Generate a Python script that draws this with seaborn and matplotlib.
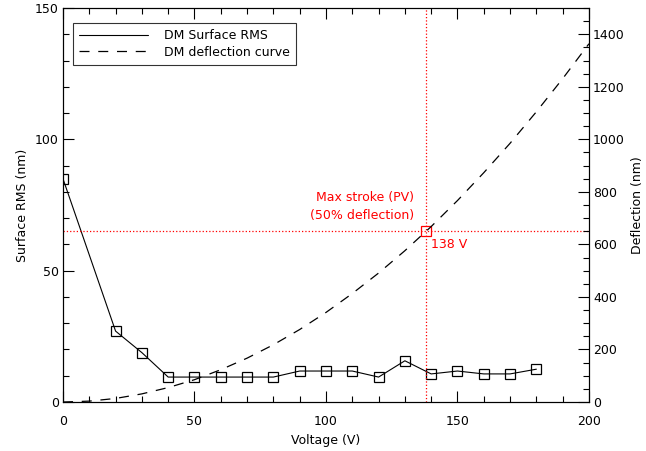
import matplotlib
matplotlib.use("Agg")
import matplotlib.pyplot as plt
import seaborn as sns
import pandas as pd
from matplotlib.ticker import MultipleLocator

# measured surface RMS vs voltage
voltage = [0, 20, 30, 40, 50, 60, 70, 80, 90, 100, 110, 120, 130, 140, 150, 160, 170, 180]
rms_nm = [85, 27, 18.8, 9.5, 9.5, 9.5, 9.5, 9.5, 11.8, 11.8, 11.8, 9.5, 15.7, 10.7, 11.8, 10.7, 10.7, 12.5]

# deflection curve
curve_v = [0, 10, 20, 30, 40, 50, 60, 70, 80, 90, 100, 110, 120, 130, 140, 150, 160, 170, 180, 190, 200]
curve_nm = [0, 3.4, 13.6, 31, 55, 85, 123, 167, 218, 276, 341, 413, 491, 576, 668, 767, 873, 985, 1105, 1231, 1364]

max_v = 138
max_rms = 65

sns.set_style("ticks")
plt.rcParams['font.family'] = ['DejaVu Sans']
plt.rcParams['font.size'] = 9
for key in ['text.color', 'axes.labelcolor', 'xtick.color', 'ytick.color']:
    plt.rcParams[key] = 'black'

rms_df = pd.DataFrame({'voltage': voltage, 'rms': rms_nm})
curve_df = pd.DataFrame({'voltage': curve_v, 'deflection': curve_nm})

fig = plt.figure(figsize=(6.46, 4.51), dpi=100)
ax = fig.add_axes([0.0975, 0.1086, 0.8142, 0.8736])
ax2 = ax.twinx()

sns.lineplot(data=rms_df, x='voltage', y='rms', ax=ax, color='black', linewidth=0.8,
             marker='s', markersize=7, markerfacecolor='none', markeredgecolor='black',
             markeredgewidth=0.9, label='DM Surface RMS', legend=False)
sns.lineplot(data=curve_df, x='voltage', y='deflection', ax=ax2, color='black', linewidth=0.9,
             dashes=False, label='DM deflection curve', legend=False)
ax2.lines[0].set_dashes((8, 7))

# max stroke markers
ax.axhline(max_rms, color='red', linestyle=':', linewidth=0.9)
ax.axvline(max_v, color='red', linestyle=':', linewidth=0.9)
ax.plot([max_v], [max_rms], marker='s', markersize=7, markerfacecolor='none',
        markeredgecolor='red', markeredgewidth=0.9, linestyle='none')
ax.text(max_v - 4.5, 68.5, 'Max stroke (PV)\n(50% deflection)', color='red', ha='right',
        va='bottom', fontsize=9, linespacing=1.5)
ax.text(max_v + 2, 62.5, '138 V', color='red', ha='left', va='top', fontsize=9)

ax.set_xlim(0, 200)
ax.set_ylim(0, 150)
ax2.set_ylim(0, 1500)
ax.set_xlabel('Voltage (V)', labelpad=5)
ax.set_ylabel('Surface RMS (nm)', labelpad=4)
ax2.set_ylabel('Deflection (nm)', labelpad=4)

ax.xaxis.set_major_locator(MultipleLocator(50))
ax.xaxis.set_minor_locator(MultipleLocator(10))
ax.yaxis.set_major_locator(MultipleLocator(50))
ax.yaxis.set_minor_locator(MultipleLocator(10))
ax2.yaxis.set_major_locator(MultipleLocator(200))
ax2.yaxis.set_minor_locator(MultipleLocator(50))

ax.tick_params(axis='x', which='both', direction='in', top=True, bottom=True, pad=9)
ax.tick_params(axis='y', which='both', direction='in', left=True, right=False, pad=3)
ax.tick_params(which='major', length=8, width=0.8)
ax.tick_params(which='minor', length=4, width=0.8)
ax2.tick_params(axis='y', which='both', direction='in', pad=3)
ax2.tick_params(which='major', length=8, width=0.8)
ax2.tick_params(which='minor', length=4, width=0.8)
for a in (ax, ax2):
    for s in a.spines.values():
        s.set_linewidth(0.8)
        s.set_color('black')

handles = ax.get_lines()[:1] + ax2.get_lines()[:1]
leg = ax.legend(handles, ['DM Surface RMS', 'DM deflection curve'], loc='upper left',
                bbox_to_anchor=(0.012, 0.972), frameon=True, fancybox=False,
                edgecolor='black', handlelength=5.5, handletextpad=1.3, fontsize=9,
                borderpad=0.5, labelspacing=0.3, borderaxespad=0.3)
leg.get_frame().set_linewidth(0.8)
for h in leg.get_lines():
    h.set_marker('')

fig.savefig('out.png', dpi=100)
